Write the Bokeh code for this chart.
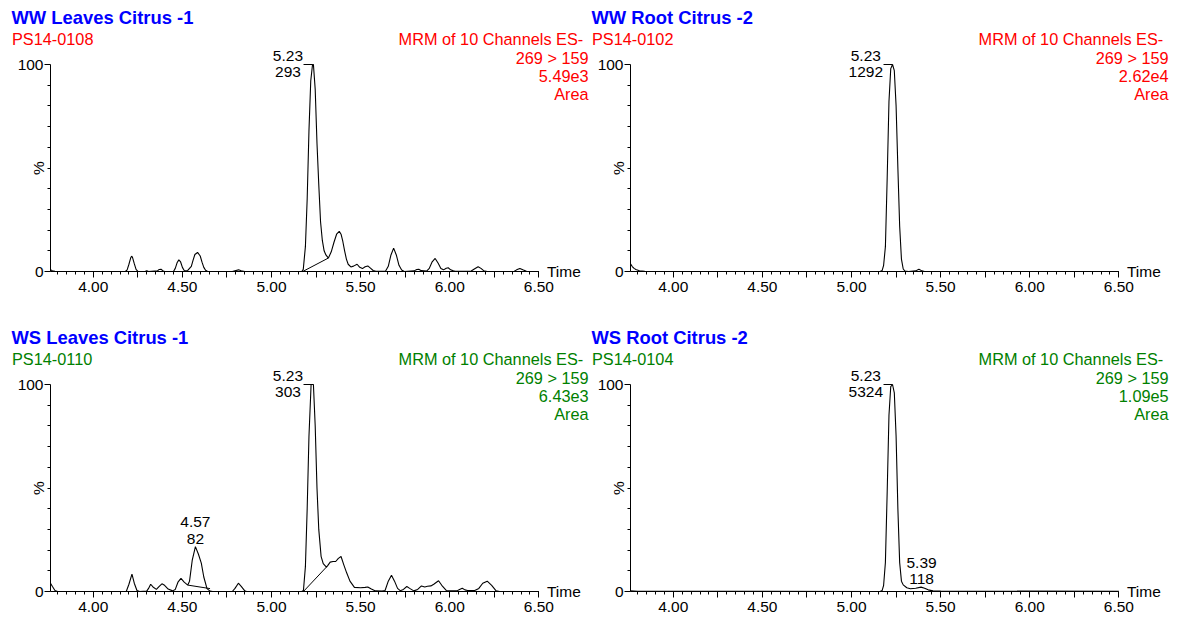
import math
from bokeh.plotting import figure
from bokeh.models import Range1d, FixedTicker, Label
from bokeh.layouts import column, row
from bokeh.embed import file_html
from bokeh.resources import INLINE

# ---------------- data ----------------
titles = ["WW Leaves Citrus -1", "WW Root Citrus -2", "WS Leaves Citrus -1", "WS Root Citrus -2"]
sample_ids = ["PS14-0108", "PS14-0102", "PS14-0110", "PS14-0104"]
channel_text = "MRM of 10 Channels ES-"
transition_text = "269 > 159"
tic_values = ["5.49e3", "2.62e4", "6.43e3", "1.09e5"]
mode_text = "Area"
info_colors = ["#FF0000", "#FF0000", "#008000", "#008000"]

ww_leaves_t = [3.76, 3.77, 3.785, 3.80, 4.18, 4.19, 4.20, 4.21, 4.215, 4.22, 4.23, 4.24, 4.25, 4.29, 4.30, 4.31,
               4.36, 4.37, 4.38, 4.39, 4.40, 4.45, 4.46, 4.47, 4.48, 4.49, 4.50, 4.51, 4.52, 4.53, 4.55, 4.56,
               4.57, 4.585, 4.60, 4.61, 4.62, 4.63, 4.64, 4.65, 4.78, 4.80, 4.815, 4.83, 4.85, 5.170, 5.178,
               5.19, 5.20, 5.21, 5.22, 5.23, 5.235, 5.245, 5.255, 5.265, 5.275, 5.285, 5.295, 5.305, 5.319,
               5.335, 5.35, 5.365, 5.38, 5.39, 5.40, 5.41, 5.42, 5.43, 5.445, 5.46, 5.48, 5.495, 5.51, 5.525,
               5.54, 5.555, 5.57, 5.585, 5.64, 5.655, 5.67, 5.685, 5.70, 5.715, 5.73, 5.745, 5.80, 5.815,
               5.826, 5.84, 5.87, 5.885, 5.90, 5.918, 5.935, 5.95, 5.965, 5.98, 5.991, 6.005, 6.02, 6.03,
               6.12, 6.14, 6.159, 6.175, 6.19, 6.21, 6.36, 6.375, 6.393, 6.41, 6.43, 6.50]
ww_leaves_i = [0.9, 0.4, 0.1, 0.0, 0.0, 0.8, 3.5, 6.6, 7.4, 6.8, 3.8, 1.0, 0.1, 0.0, 0.4, 0.0,
               0.3, 1.0, 1.1, 0.4, 0.0, 0.0, 1.5, 4.2, 5.6, 4.6, 2.0, 0.5, 0.3, 0.5, 2.5, 5.5,
               8.2, 9.2, 7.5, 4.5, 2.0, 0.6, 0.1, 0.0, 0.0, 0.5, 0.8, 0.4, 0.0, 0.0, 1.0,
               12.0, 35.0, 68.0, 92.0, 100.0, 100.0, 88.0, 62.0, 42.0, 24.0, 15.0, 10.0, 8.0, 6.5,
               9.5, 14.0, 18.0, 19.4, 18.0, 14.5, 10.0, 6.0, 3.5, 2.2, 2.6, 3.5, 2.0, 1.4, 2.3,
               2.7, 1.6, 0.5, 0.1, 0.2, 2.5, 8.0, 11.3, 8.0, 3.0, 0.7, 0.0, 0.3, 1.0,
               1.1, 0.4, 0.2, 1.5, 4.5, 6.3, 4.0, 1.5, 0.8, 1.6, 1.8, 0.8, 0.3, 0.1,
               0.2, 1.3, 2.3, 1.5, 0.4, 0.0, 0.0, 0.8, 1.5, 0.8, 0.1, 0.0]

ww_root_t = [3.76, 3.77, 3.78, 3.79, 3.81, 3.84, 3.87, 5.16, 5.172, 5.18, 5.19, 5.20, 5.21, 5.22, 5.23,
             5.24, 5.25, 5.26, 5.27, 5.28, 5.29, 5.30, 5.32, 5.36, 5.378, 5.395, 5.41, 6.50]
ww_root_i = [3.7, 2.4, 1.5, 1.0, 0.4, 0.1, 0.0, 0.0, 0.5, 3.0, 12.0, 45.0, 82.0, 98.0, 100.0,
             97.0, 80.0, 50.0, 22.0, 6.0, 1.2, 0.2, 0.0, 0.3, 1.1, 0.3, 0.0, 0.0]

ws_leaves_t = [3.76, 3.77, 3.785, 3.80, 4.185, 4.20, 4.217, 4.23, 4.245, 4.26, 4.30, 4.31, 4.322, 4.335,
               4.354, 4.37, 4.385, 4.40, 4.42, 4.445, 4.46, 4.475, 4.492, 4.51, 4.530, 4.54, 4.555, 4.573,
               4.59, 4.606, 4.62, 4.638, 4.655, 4.67, 4.78, 4.795, 4.814, 4.83, 4.85, 4.86, 5.17, 5.179,
               5.19, 5.20, 5.21, 5.222, 5.235, 5.245, 5.255, 5.265, 5.278, 5.29, 5.308, 5.315, 5.329,
               5.345, 5.36, 5.375, 5.39, 5.405, 5.422, 5.44, 5.465, 5.50, 5.525, 5.54, 5.56, 5.583,
               5.62, 5.637, 5.655, 5.673, 5.69, 5.707, 5.722, 5.74, 5.759, 5.775, 5.798, 5.82, 5.841,
               5.86, 5.875, 5.894, 5.91, 5.937, 5.955, 5.98, 6.00, 6.04, 6.055, 6.07, 6.085, 6.10,
               6.14, 6.163, 6.185, 6.21, 6.235, 6.26, 6.28, 6.50]
ws_leaves_i = [4.0, 2.5, 0.5, 0.0, 0.0, 3.5, 8.4, 4.0, 0.5, 0.0, 0.2, 1.5, 3.5, 2.2,
               1.0, 2.5, 3.7, 3.0, 1.2, 0.3, 1.0, 4.5, 6.3, 4.5, 3.1, 5.0, 15.0, 21.7,
               18.0, 13.7, 7.0, 1.4, 0.2, 0.0, 0.0, 1.5, 4.0, 2.5, 0.3, 0.0, 0.0, 0.5,
               12.0, 40.0, 75.0, 100.0, 100.0, 80.0, 50.0, 30.0, 17.0, 13.5, 11.8, 12.5, 14.2,
               14.5, 14.5, 16.0, 16.9, 13.0, 8.9, 5.0, 2.0, 1.8, 2.0, 2.2, 1.2, 0.3,
               0.2, 0.5, 5.0, 7.9, 5.0, 1.5, 0.4, 1.0, 2.4, 1.5, 0.3, 1.0, 2.7,
               2.2, 2.5, 2.7, 3.5, 5.2, 3.0, 0.5, 0.3, 0.3, 1.0, 1.6, 0.8, 0.5,
               0.5, 1.5, 4.0, 5.0, 3.0, 0.3, 0.0, 0.0]

ws_root_t = [3.76, 3.80, 5.16, 5.172, 5.18, 5.19, 5.20, 5.21, 5.22, 5.23, 5.24, 5.25, 5.26, 5.27,
             5.28, 5.29, 5.31, 5.33, 5.36, 5.39, 5.41, 5.43, 5.457, 5.50, 6.50]
ws_root_i = [0.3, 0.1, 0.0, 0.5, 3.0, 14.0, 48.0, 85.0, 99.0, 100.0, 96.0, 75.0, 40.0, 14.0,
             5.0, 3.2, 1.8, 1.3, 1.6, 2.1, 1.6, 0.8, 0.3, 0.2, 0.1]

traces_t = [ww_leaves_t, ww_root_t, ws_leaves_t, ws_root_t]
traces_i = [ww_leaves_i, ww_root_i, ws_leaves_i, ws_root_i]

# labelled peaks: (retention time, % height, area text, kind)
peaks = [
    [(5.23, 100.0, "293", "leader")],
    [(5.23, 100.0, "1292", "leader")],
    [(4.57, 21.7, "82", "above"), (5.23, 100.0, "303", "leader")],
    [(5.23, 100.0, "5324", "leader"), (5.39, 2.1, "118", "above")],
]
# integration baselines: (t0, %0, t1, %1)
integrations = [
    [(5.175, 0.0, 5.319, 6.5)],
    [],
    [(4.530, 3.1, 4.655, 1.4), (5.179, 0.0, 5.308, 11.8)],
    [],
]

x_major = [4.0, 4.25, 4.5, 4.75, 5.0, 5.25, 5.5, 5.75, 6.0, 6.25, 6.5]
x_minor = [round(3.80 + 0.05 * k, 2) for k in range(54)]
y_major = [0, 100]
y_minor = [10, 20, 30, 40, 50, 60, 70, 80, 90]

# ---------------- styling / geometry ----------------
FONT = "Liberation Sans"
X0, X1 = 3.76, 6.50
PX_PER_MIN = 178.25      # horizontal scale
PX_PER_PCT = 2.07        # vertical scale
TOP_PX = 64.0            # pixel row of the 100 % level inside each figure
FIX = 5.5                # baseline correction for Label text (pixels, upward)
NUM_SIZE = "15.5px"
INFO_SIZE = "16.3px"
TITLE_SIZE = "18.4px"


def text_w(s, size=15.5):
    w = {".": 0.278}
    return sum(w.get(c, 0.556) for c in s) * size


def lab(p, x, y, xo, yo, text, size, color="black", align="left", bold=False):
    p.add_layout(Label(x=x, y=y, x_offset=xo, y_offset=yo + FIX, text=text, text_font=FONT,
                       text_font_size=size, text_color=color, text_align=align,
                       text_font_style="bold" if bold else "normal", text_baseline="alphabetic"))


def panel(k, width, height, axis_px):
    xs = X0 - axis_px / PX_PER_MIN
    xe = xs + width / PX_PER_MIN
    ye = 100 + TOP_PX / PX_PER_PCT
    ys = ye - height / PX_PER_PCT
    p = figure(width=width, height=height, x_range=Range1d(xs, xe), y_range=Range1d(ys, ye),
               output_backend="svg", toolbar_location=None, title=None,
               min_border_left=0, min_border_right=0, min_border_top=0, min_border_bottom=0)
    p.outline_line_color = None
    p.xgrid.visible = False
    p.ygrid.visible = False
    p.background_fill_color = "white"
    p.border_fill_color = "white"

    xa = p.xaxis[0]
    xa.ticker = FixedTicker(ticks=x_major, minor_ticks=x_minor)
    xa.major_label_overrides = {t: ("%.2f" % t if abs(t * 2 - round(t * 2)) < 1e-9 else "") for t in x_major}
    xa.bounds = (X0, X1)
    xa.fixed_location = 0
    ya = p.yaxis[0]
    ya.ticker = FixedTicker(ticks=y_major, minor_ticks=y_minor)
    ya.bounds = (0, 100)
    ya.fixed_location = X0
    for ax in (xa, ya):
        ax.axis_line_color = "black"
        ax.axis_line_width = 1
        ax.major_tick_line_color = "black"
        ax.minor_tick_line_color = "black"
        ax.major_tick_in = 0
        ax.minor_tick_in = 0
        ax.major_tick_out = 6
        ax.minor_tick_out = 3
        ax.major_label_text_font = FONT
        ax.major_label_text_font_size = NUM_SIZE
        ax.major_label_text_color = "black"
    xa.major_label_standoff = 4
    ya.major_label_standoff = 1

    p.line(traces_t[k], traces_i[k], line_color="black", line_width=1.1)
    for (t0, i0, t1, i1) in integrations[k]:
        p.segment(x0=[t0], y0=[i0], x1=[t1], y1=[i1], line_color="black", line_width=1)

    lead = 9.0 / PX_PER_MIN
    for (rt, h, area, kind) in peaks[k]:
        rt_s = "%.2f" % rt
        if kind == "leader":
            p.segment(x0=[rt - lead], y0=[h], x1=[rt], y1=[h], line_color="black", line_width=1)
            cx = -9.5 - max(text_w(rt_s), text_w(area)) / 2.0
            offs = [(rt_s, 3.5), (area, -13)]
        else:
            cx = 0.5
            offs = [(rt_s, 19), (area, 2.5)]
        for (txt, yo) in offs:
            lab(p, rt, h, cx, yo, txt, NUM_SIZE, align="center")

    col = info_colors[k]
    lab(p, X0, 100, -39, 41.3, titles[k], TITLE_SIZE, color="#0000FF", bold=True)
    lab(p, X0, 100, -38.5, 19.7, sample_ids[k], INFO_SIZE, color=col)
    right_lines = [(channel_text, 44.3, 19.7), (transition_text, 49.7, 1.4),
                   (tic_values[k], 49.7, -16.9), (mode_text, 49.7, -35.2)]
    for (txt, xo, yo) in right_lines:
        lab(p, X1, 100, xo, yo, txt, INFO_SIZE, color=col, align="right")
    lab(p, X1, 0, 8, -5.4, "Time", NUM_SIZE)
    p.add_layout(Label(x=X0, y=50, x_offset=-12.5, y_offset=0, text="%", text_font=FONT,
                       text_font_size=NUM_SIZE, text_color="black", angle=math.pi / 2,
                       text_align="center", text_baseline="middle"))
    return p


p1 = panel(0, 590, 320, 50)
p2 = panel(1, 587, 320, 40)
p3 = panel(2, 590, 297, 50)
p4 = panel(3, 587, 297, 40)

layout = column(row(p1, p2), row(p3, p4))
open("out.html", "w").write(file_html(layout, INLINE))
